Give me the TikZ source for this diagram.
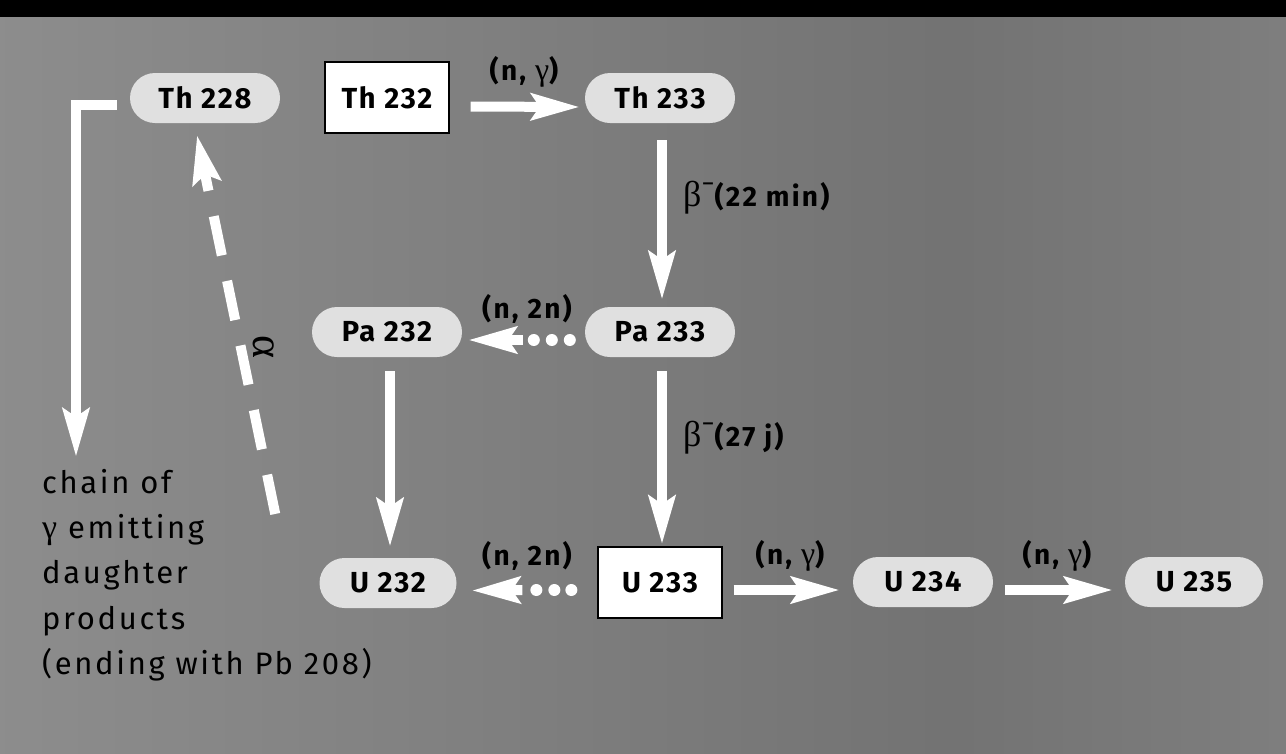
\documentclass[tikz,border=0pt]{standalone}
\usepackage{fontspec}
\setmainfont{Fira Sans}
\newfontfamily\lblfont[LetterSpace=6]{Fira Sans}
\newfontfamily\edgefont[LetterSpace=8]{Fira Sans}
\newfontfamily\chainfont[LetterSpace=8.5]{Fira Sans}
\newfontfamily\grk{Liberation Serif}
\usetikzlibrary{arrows.meta,calc}
\definecolor{bgL}{gray}{0.62}
\definecolor{bgM}{gray}{0.45}
\definecolor{bgR}{gray}{0.58}
\definecolor{pillc}{gray}{0.88}
\pgfdeclarehorizontalshading{bgshade}{100bp}{color(0bp)=(bgL); color(62bp)=(bgM); color(100bp)=(bgR)}
\tikzset{
  pill/.style={fill=pillc, rounded corners=25pt, minimum width=150pt, minimum height=50pt, inner sep=0pt, font=\fontsize{29}{30}\selectfont\lblfont\bfseries},
  whitebox/.style={fill=white, draw=black, line width=1.3pt, minimum width=124pt, minimum height=71pt, inner sep=0pt, font=\fontsize{29}{30}\selectfont\lblfont\bfseries},
  warrow/.style={draw=white, line width=10pt, line join=miter, -{Stealth[length=48pt,width=26pt,inset=8pt]}},
  dotc/.style={circle, fill=white, inner sep=0pt, minimum size=12pt},
  lbl/.style={font=\fontsize{28}{30}\selectfont\edgefont\bfseries, inner sep=0pt},
}
\newcommand{\gam}{{\fontsize{32}{32}\selectfont\grk\mdseries γ}}
\newcommand{\betam}{{\fontsize{36}{36}\selectfont\grk\mdseries β}\raisebox{0.5em}{\mdseries\fontsize{26}{26}\selectfont −}}
\begin{document}
\begin{tikzpicture}[x=1pt,y=-1pt]
\useasboundingbox (0,0) rectangle (1286,753);
\shade[shading=bgshade] (0,0) rectangle (1286,753);
\fill[black] (0,0) rectangle (1286,17);

% nodes
\node[pill] (th228) at (205,98) {Th 228};
\node[whitebox] (th232) at (387,97.5) {Th 232};
\node[pill] (th233) at (660,98) {Th 233};
\node[pill] (pa232) at (387,332) {Pa 232};
\node[pill] (pa233) at (660,332) {Pa 233};
\node[pill, minimum width=137pt] (u232) at (388,583) {U 232};
\node[whitebox] (u233) at (660,582.5) {U 233};
\node[pill, minimum width=140pt] (u234) at (923,582) {U 234};
\node[pill, minimum width=138pt] (u235) at (1194,582) {U 235};

\node[anchor=north west, align=left, inner sep=0pt, font=\fontsize{31}{45.3}\selectfont\chainfont] (chain) at (42,469)
  {chain of\\{\fontsize{34}{34}\selectfont\grk γ} emitting\\daughter\\products\\(ending with Pb 208)};

% connectors
\draw[warrow] ($(th232.east)+(21,9)$) -- ($(th233.west)+(-5,9)$);
\node[lbl] (l1) at (524,72) {(n, \gam)};

\draw[warrow] ($(th233.south)+(2,17)$) -- ($(pa233.north)+(2,-7)$);
\node[lbl, anchor=west] (l2) at (683,198) {\betam(22 min)};

\draw[warrow] ($(pa233.south)+(2,14)$) -- ($(u233.north)+(2,-2)$);
\node[lbl, anchor=west] (l3) at (683,438) {\betam(27 j)};

\draw[warrow] ($(pa232.south)+(3,14)$) -- ($(u232.north)+(2,-11)$);

% (n,2n) upper
\node[dotc] (d1) at ($(pa233.west)+(-15,8)$) {};
\node[dotc] (d2) at ($(pa233.west)+(-33,8)$) {};
\node[dotc] (d3) at ($(pa233.west)+(-51,8)$) {};
\draw[warrow] ($(pa233.west)+(-62,8)$) -- ($(pa232.east)+(6,8)$);
\node[lbl] (l4) at (527,309) {(n, 2n)};

% (n,2n) lower
\node[dotc] (d4) at ($(u233.west)+(-26,7.5)$) {};
\node[dotc] (d5) at ($(u233.west)+(-43,7.5)$) {};
\node[dotc] (d6) at ($(u233.west)+(-61,7.5)$) {};
\draw[warrow] ($(u233.west)+(-75,7.5)$) -- ($(u232.east)+(15,7.5)$);
\node[lbl] (l5) at (527,556) {(n, 2n)};

\draw[warrow] ($(u233.east)+(11,7.5)$) -- ($(u234.west)+(-13,8)$);
\node[lbl] (l6) at (790,556) {(n, \gam)};
\draw[warrow] ($(u234.east)+(12,8)$) -- ($(u235.west)+(-12,8)$);
\node[lbl] (l7) at (1057,556) {(n, \gam)};

% chain arrow
\coordinate (chaintip) at (76,457);
\draw[warrow] ($(th228.west)+(-13,7)$) -| (chaintip);

% alpha dashed arrow
\coordinate (astart) at (280,537);
\draw[draw=white, line width=10pt, dash pattern=on 40pt off 26pt, dash phase=20pt, {Stealth[length=48pt,width=28pt,inset=8pt]}-] ($(th228.south)+(-8,12)$) -- (astart);
\node[rotate=-90, font=\fontsize{44}{44}\selectfont\grk, inner sep=0pt] (alpha) at (264,347) {α};
\end{tikzpicture}
\end{document}
